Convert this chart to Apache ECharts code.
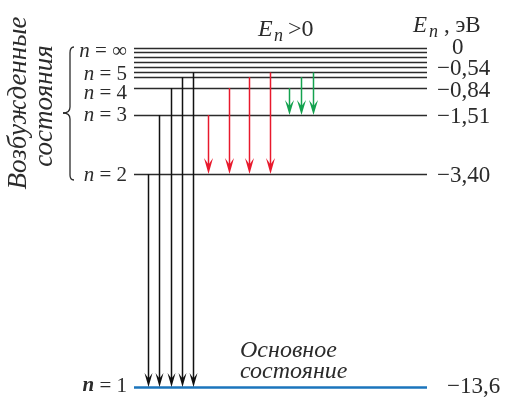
<!DOCTYPE html>
<html>
<head>
<meta charset="utf-8">
<script src="https://cdn.jsdelivr.net/npm/echarts@6/dist/echarts.min.js"></script>
<style>
  html, body { margin: 0; padding: 0; background: #fff; }
  #chart { width: 508px; height: 397px; }
</style>
</head>
<body>
<div id="chart"></div>
<script>
// energy levels of hydrogen (schematic heights above the ground state)
var levelN = ['∞', 10, 9, 8, 7, 6, 5, 4, 3, 2, 1]
var levelHeight = [100, 98.8, 97.3, 95.8, 94.3, 92.8, 91.4, 88.2, 80.2, 62.8, 0]
var labelledN = ['∞', 5, 4, 3, 2, 1]
var energyLabels = ['0', '−0,54', '−0,84', '−1,51', '−3,40', '−13,6']
// transitions (upper level n), grouped by lower level
var lymanFrom = [2, 3, 4, 5, 6]   // -> n = 1
var balmerFrom = [3, 4, 5, 6]     // -> n = 2
var paschenFrom = [4, 5, 6]       // -> n = 3

var FONT = 'Liberation Serif'
var INK = '#2b2b2b'

function heightOf(n) {
  return levelHeight[levelN.indexOf(n)]
}

function arrowData(list, to, x0, step) {
  return list.map(function(n, i) {
    return [x0 + i * step, heightOf(n), heightOf(to)]
  })
}

function arrowSeries(data, color, headLen, headW) {
  return {
    type: 'custom',
    clip: false,
    data: data,
    encode: { x: 0, y: 1 },
    renderItem: function(params, api) {
      var p0 = api.coord([api.value(0), api.value(1)])
      var p1 = api.coord([api.value(0), api.value(2)])
      var x = Math.round(p0[0]) + 0.5
      var tip = p1[1]
      return {
        type: 'group',
        children: [{
          type: 'line',
          shape: { x1: x, y1: p0[1], x2: x, y2: tip - headLen * 0.5 },
          style: { stroke: color, lineWidth: 1.5 }
        }, {
          type: 'polygon',
          shape: { points: [[x, tip], [x - headW / 2, tip - headLen], [x, tip - headLen * 0.6], [x + headW / 2, tip - headLen]] },
          style: { fill: color }
        }]
      }
    }
  }
}

var leftOffset = { '∞': 3, 5: -3, 4: 5, 3: 0, 2: 1, 1: -1 }
var rightOffset = { '∞': 0, 5: -8, 4: 3, 3: 2, 2: 2, 1: 0 }

var braceStyle = { stroke: INK, lineWidth: 1.3, fill: null }

function label(x, y, text, size, italic, extra) {
  var style = {
    text: text,
    fontFamily: FONT,
    fontSize: size,
    fontStyle: italic ? 'italic' : 'normal',
    fill: INK,
    verticalAlign: 'middle'
  }
  var el = { type: 'text', x: x, y: y, style: style }
  if (extra) {
    el.rotation = extra.rotation
    style.align = extra.align
  }
  return el
}

var option = {
  animation: false,
  backgroundColor: '#fff',
  grid: { left: 134, right: 81, top: 48, bottom: 10 },
  xAxis: { type: 'value', min: 0, max: 100, show: false },
  yAxis: { type: 'value', min: 0, max: 100, show: false },
  graphic: [
    label(19, 103, 'Возбужденные', 27, true, { rotation: Math.PI / 2, align: 'center' }),
    label(45, 106, 'состояния', 27, true, { rotation: Math.PI / 2, align: 'center' }),
    { type: 'bezierCurve', shape: { x1: 74, y1: 47, cpx1: 71, cpy1: 47, cpx2: 70, cpy2: 49, x2: 70, y2: 53 }, style: braceStyle },
    { type: 'line', shape: { x1: 70, y1: 53, x2: 70, y2: 107 }, style: braceStyle },
    { type: 'bezierCurve', shape: { x1: 70, y1: 107, cpx1: 70, cpy1: 111, cpx2: 67, cpy2: 113, x2: 63, y2: 113 }, style: braceStyle },
    { type: 'bezierCurve', shape: { x1: 63, y1: 113, cpx1: 67, cpy1: 113, cpx2: 70, cpy2: 115, x2: 70, y2: 119 }, style: braceStyle },
    { type: 'line', shape: { x1: 70, y1: 119, x2: 70, y2: 175 }, style: braceStyle },
    { type: 'bezierCurve', shape: { x1: 70, y1: 175, cpx1: 70, cpy1: 178, cpx2: 71, cpy2: 180, x2: 74, y2: 180 }, style: braceStyle },
    label(240, 351, 'Основное', 24, true),
    label(240, 372, 'состояние', 24, true),
    label(258, 30, 'E', 24, true),
    label(274, 36, 'n', 18, true),
    label(288, 30, '>0', 24, false),
    label(413, 26, 'E', 23, true),
    label(429, 32, 'n', 18, true),
    label(444, 26, ', эВ', 23, false)
  ],
  series: [
    {
      // level lines
      type: 'custom',
      clip: false,
      data: levelN.map(function(n, i) { return [0, levelHeight[i], i] }),
      encode: { x: 0, y: 1 },
      renderItem: function(params, api) {
        var a = api.coord([0, api.value(1)])
        var b = api.coord([100, api.value(1)])
        var ground = params.dataIndex === levelN.length - 1
        var y = Math.round(a[1]) + 0.5
        return {
          type: 'line',
          shape: { x1: a[0], y1: y, x2: b[0], y2: y },
          style: { stroke: ground ? '#1b75bc' : INK, lineWidth: ground ? 2.5 : 1.7 }
        }
      }
    },
    {
      // labels n = ... on the left and energies on the right
      type: 'custom',
      clip: false,
      data: labelledN.map(function(n, i) { return [0, heightOf(n), i] }),
      encode: { x: 0, y: 1 },
      renderItem: function(params, api) {
        var i = params.dataIndex
        var n = labelledN[i]
        var a = api.coord([0, api.value(1)])
        var b = api.coord([100, api.value(1)])
        var isGround = n === 1
        return {
          type: 'group',
          children: [{
            type: 'text',
            x: a[0] - 7,
            y: a[1] + leftOffset[n],
            style: {
              text: '{n|n}{r| = ' + n + '}',
              fill: INK,
              align: 'right',
              verticalAlign: 'middle',
              rich: {
                n: { fontStyle: 'italic', fontWeight: isGround ? 'bold' : 'normal', fontSize: 21, fontFamily: FONT, color: INK },
                r: { fontSize: 21, fontFamily: FONT, color: INK }
              }
            }
          }, {
            type: 'text',
            x: b[0] + (n === '∞' ? 25 : 10) + (isGround ? 10 : 0),
            y: b[1] + rightOffset[n],
            style: {
              text: energyLabels[i],
              fontFamily: FONT,
              fontSize: 23,
              fill: INK,
              align: 'left',
              verticalAlign: 'middle'
            }
          }]
        }
      }
    },
    arrowSeries(arrowData(lymanFrom, 1, 4.8, 3.85), '#111', 14, 8),
    arrowSeries(arrowData(balmerFrom, 2, 25.3, 7.0), '#e8192c', 16, 9),
    arrowSeries(arrowData(paschenFrom, 3, 52.9, 4.1), '#14a24f', 15, 9)
  ]
}

var chart = echarts.init(document.getElementById('chart'))
chart.setOption(option)
</script>
</body>
</html>
